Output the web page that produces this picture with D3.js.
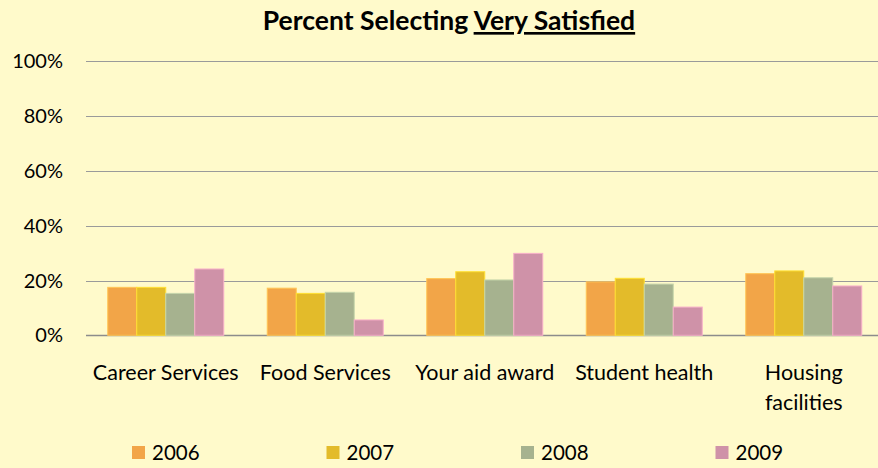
<!DOCTYPE html>
<html>
<head>
<meta charset="utf-8">
<script src="https://cdn.jsdelivr.net/npm/d3@7"></script>
<style>
  html, body { margin: 0; padding: 0; background: #fffacb; }
  svg { display: block; }
</style>
</head>
<body>
<div id="chart"></div>
<script>
// Percent selecting "Very Satisfied", per service and year
const categories = ["Career Services", "Food Services", "Your aid award", "Student health", "Housing facilities"];
const years = ["2006", "2007", "2008", "2009"];
const values2006 = [17.5, 17.2, 20.7, 19.5, 22.5];
const values2007 = [17.5, 15.3, 23.2, 20.8, 23.5];
const values2008 = [15.3, 15.7, 20.2, 18.7, 21.0];
const values2009 = [24.2, 5.6, 29.9, 10.3, 18.0];
const yTicks = [0, 20, 40, 60, 80, 100];
const colors = ["#f2a548", "#e3bb2a", "#a6b28f", "#cf92a8"];

const seriesValues = [values2006, values2007, values2008, values2009];

const width = 878, height = 468;
const FONT = "Lato, 'Open Sans', sans-serif";

const svg = d3.select("#chart").append("svg")
  .attr("width", width)
  .attr("height", height)
  .style("background", "#fffacb");

// ── Scales ──
const plotLeft = 86, band = 159.5;
const x0 = d3.scaleBand()
  .domain(categories)
  .range([plotLeft, plotLeft + band * categories.length])
  .padding(0);
const x1 = d3.scaleBand()
  .domain(years)
  .range([0, x0.bandwidth()])
  .paddingInner(0)
  .paddingOuter(0.75);
const y = d3.scaleLinear().domain([0, 100]).range([335.3, 61.3]);

// ── Title ──
const title = svg.append("text")
  .attr("x", 449).attr("y", 30)
  .attr("text-anchor", "middle")
  .attr("font-family", FONT)
  .attr("font-weight", "bold")
  .attr("font-size", 26.5)
  .attr("fill", "#000");
title.append("tspan").text("Percent Selecting ");
title.append("tspan").attr("text-decoration", "underline").text("Very Satisfied");

// ── Gridlines + y labels ──
const grid = svg.append("g");
grid.selectAll("line")
  .data(yTicks)
  .join("line")
  .attr("x1", plotLeft).attr("x2", width)
  .attr("y1", d => Math.round(y(d)) + 0.5)
  .attr("y2", d => Math.round(y(d)) + 0.5)
  .attr("stroke", d => d === 0 ? "#8c8c8c" : "#9a9a9a")
  .attr("stroke-width", d => d === 0 ? 1.5 : 1.2);
grid.selectAll("text")
  .data(yTicks)
  .join("text")
  .attr("x", 63)
  .attr("y", d => y(d) + 7)
  .attr("text-anchor", "end")
  .attr("font-family", FONT)
  .attr("font-size", 20)
  .attr("fill", "#000")
  .text(d => d + "%");

// ── Bars ──
const groups = svg.append("g").selectAll("g")
  .data(categories)
  .join("g")
  .attr("transform", d => `translate(${x0(d)},0)`);

groups.selectAll("rect")
  .data((c, ci) => years.map((yr, si) => ({ yr, si, v: seriesValues[si][ci] })))
  .join("rect")
  .attr("x", d => x1(d.yr))
  .attr("width", x1.bandwidth())
  .attr("y", d => y(d.v))
  .attr("height", d => y(0) - y(d.v))
  .attr("fill", d => colors[d.si])
  .attr("stroke", d => d3.color(colors[d.si]).brighter(0.5))
  .attr("stroke-width", 1);

// ── Category labels ──
const catLabels = svg.append("g").selectAll("text")
  .data(categories)
  .join("text")
  .attr("x", d => x0(d) + x0.bandwidth() / 2)
  .attr("y", 380)
  .attr("text-anchor", "middle")
  .attr("font-family", FONT)
  .attr("font-size", 21.5)
  .attr("fill", "#000");
catLabels.each(function(d) {
  const t = d3.select(this);
  const lines = d === "Housing facilities" ? ["Housing", "facilities"] : [d];
  lines.forEach((ln, i) => {
    t.append("tspan")
      .attr("x", x0(d) + x0.bandwidth() / 2)
      .attr("dy", i === 0 ? 0 : 30)
      .text(ln);
  });
});

// ── Legend ──
const legend = svg.append("g").selectAll("g")
  .data(years)
  .join("g")
  .attr("transform", (d, i) => `translate(${132 + i * 194.5},446)`);
legend.append("rect")
  .attr("width", 13).attr("height", 13)
  .attr("fill", (d, i) => colors[i]);
legend.append("text")
  .attr("x", 20).attr("y", 14)
  .attr("font-family", FONT)
  .attr("font-size", 20.5)
  .attr("fill", "#000")
  .text(d => d);
</script>
</body>
</html>
